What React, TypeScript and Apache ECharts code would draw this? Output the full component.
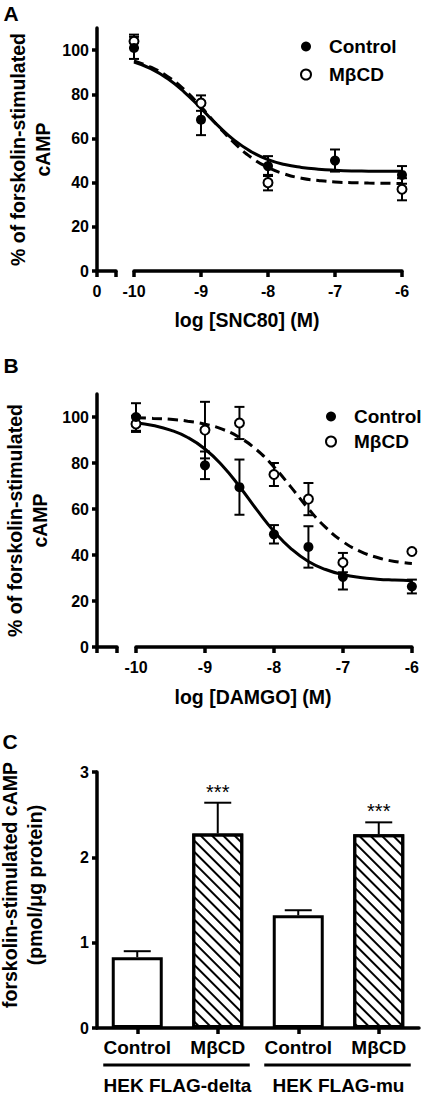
import React, { useEffect, useRef } from 'react';
import * as echarts from 'echarts';

const FONT = '"Liberation Sans", Arial, Helvetica, sans-serif';

// ---------- Panel A (SNC80) ----------
const xA_ctrl = [-10, -9, -8, -7, -6];
const yA_ctrl = [101, 68.5, 47.5, 50, 43.5];
const eA_ctrl = [5, 7, 4.5, 5, 4];
const xA_mbcd = [-10, -9, -8, -6];
const yA_mbcd = [104, 76, 40, 37];
const eA_mbcd = [3, 3.5, 3.5, 5];

// fitted curves
const fitX = [-10, -9.75, -9.5, -9.25, -9, -8.75, -8.5, -8.25, -8, -7.75, -7.5, -7.25, -7, -6.75, -6.5, -6.25, -6];
const fitA_ctrl = [94.6, 91.6, 87.1, 81.0, 73.6, 65.9, 59.1, 54.0, 50.4, 48.2, 46.9, 46.1, 45.6, 45.3, 45.2, 45.1, 45.1];
const fitA_mbcd = [95.1, 92.3, 88.1, 82.1, 74.3, 65.8, 57.9, 51.4, 46.9, 43.9, 42.0, 41.0, 40.3, 40.0, 39.8, 39.7, 39.6];

// ---------- Panel B (DAMGO) ----------
const xB = [-10, -9, -8.5, -8, -7.5, -7, -6];
const yB_ctrl = [100, 79, 69.5, 49, 43.5, 30.5, 26.3];
const eB_ctrl = [6, 6, 12, 4, 9, 5.5, 3];
const yB_mbcd = [97, 94.3, 97.4, 75, 64.3, 36.7, 41.5];
const eB_mbcd = [3.5, 12.3, 7, 5, 7, 4.2, 0];
const fitB_ctrl = [97.5, 96.3, 94.3, 91.1, 86.1, 78.9, 69.8, 59.7, 50.3, 42.7, 37.2, 33.7, 31.5, 30.2, 29.5, 29.1, 28.8];
const fitB_mbcd = [99.7, 99.4, 99.0, 98.2, 96.9, 94.7, 91.1, 85.7, 78.3, 69.4, 60.1, 52.0, 45.8, 41.6, 38.9, 37.2, 36.3];

const yTicksAB = [0, 20, 40, 60, 80, 100];

// ---------- Panel C ----------
const catsC = ['Control', 'MβCD', 'Control', 'MβCD'];
const hatchedC = [false, true, false, true];
const valuesC = [0.83, 2.28, 1.32, 2.27];
const errC = [0.07, 0.36, 0.06, 0.14];
const sigC = ['', '***', '', '***'];
const groupsC = ['HEK FLAG-delta', 'HEK FLAG-mu'];
const groupSpans = [[0, 1], [2, 3]];

const AXW = 3.5;
const mkLine = () => ({ show: true, onZero: false, lineStyle: { color: '#000', width: AXW } });
const mkTick = (length = 6) => ({ show: true, length, lineStyle: { color: '#000', width: AXW } });
const lbl = () => ({ color: '#000', fontSize: 16, fontWeight: 'bold', fontFamily: FONT });

function errRender(cap: number, twoSided: boolean, sig?: string[]) {
  return (params: any, api: any) => {
    const x = api.value(0);
    const y = api.value(1);
    const e = api.value(2);
    const style = { stroke: '#000', lineWidth: 2 };
    const children: any[] = [];
    const hi = api.coord([x, y + e]);
    if (e > 0) {
      const lo = twoSided ? api.coord([x, y - e]) : api.coord([x, y]);
      children.push({ type: 'line', shape: { x1: hi[0], y1: hi[1], x2: lo[0], y2: lo[1] }, style });
      children.push({ type: 'line', shape: { x1: hi[0] - cap, y1: hi[1], x2: hi[0] + cap, y2: hi[1] }, style });
      if (twoSided) {
        children.push({ type: 'line', shape: { x1: lo[0] - cap, y1: lo[1], x2: lo[0] + cap, y2: lo[1] }, style });
      }
    }
    if (sig && sig[params.dataIndex]) {
      children.push({
        type: 'text',
        style: {
          text: sig[params.dataIndex], x: hi[0], y: hi[1] - 11,
          align: 'center', verticalAlign: 'middle', fill: '#000',
          fontSize: 20, fontFamily: FONT,
        },
      });
    }
    return { type: 'group', children };
  };
}

function buildOption(): any {
  const grids = [
    { left: 97, top: 28, width: 19, height: 243 },   // A stub
    { left: 134, top: 28, width: 268, height: 243 }, // A main
    { left: 97, top: 394, width: 20, height: 253 },  // B stub
    { left: 136, top: 394, width: 278, height: 253 },// B main
    { left: 97, top: 772, width: 322, height: 257 }, // C
  ];

  const xAxes: any[] = [
    { gridIndex: 0, type: 'value', min: 0, max: 1, interval: 1, axisLine: mkLine(), axisTick: mkTick(), splitLine: { show: false },
      axisLabel: { ...lbl(), margin: 12, formatter: (v: number) => (v === 0 ? '0' : '') } },
    { gridIndex: 1, type: 'value', min: -10, max: -6, interval: 1, axisLine: mkLine(), axisTick: mkTick(), splitLine: { show: false },
      axisLabel: { ...lbl(), margin: 12 } },
    { gridIndex: 2, type: 'value', min: 0, max: 1, interval: 1, axisLine: mkLine(), axisTick: mkTick(), splitLine: { show: false },
      axisLabel: { show: false } },
    { gridIndex: 3, type: 'value', min: -10, max: -6, interval: 1, axisLine: mkLine(), axisTick: mkTick(), splitLine: { show: false },
      axisLabel: { ...lbl(), margin: 12 } },
    { gridIndex: 4, type: 'category', data: catsC, axisLine: mkLine(), splitLine: { show: false },
      axisTick: { ...mkTick(), alignWithLabel: true, interval: 0 },
      axisLabel: { ...lbl(), fontSize: 19, margin: 10, interval: 0 } },
    { gridIndex: 4, type: 'category', data: groupsC, position: 'bottom', offset: 40,
      axisLine: { show: false }, axisTick: { show: false }, splitLine: { show: false },
      axisLabel: { ...lbl(), fontSize: 19, margin: 8, interval: 0 } },
  ];

  const yTitle = {
    fontSize: 19.5, fontWeight: 'bold', fontFamily: FONT, color: '#000', lineHeight: 25, align: 'center',
  };
  const yAxes: any[] = [
    { gridIndex: 0, type: 'value', min: 0, max: 110, axisLine: mkLine(), splitLine: { show: false },
      axisTick: { ...mkTick(5), customValues: yTicksAB },
      axisLabel: { ...lbl(), margin: 8, customValues: yTicksAB },
      name: '% of forskolin-stimulated\ncAMP', nameLocation: 'middle', nameRotate: 90, nameGap: 42,
      nameTextStyle: yTitle },
    { gridIndex: 1, type: 'value', min: 0, max: 110, show: false },
    { gridIndex: 2, type: 'value', min: 0, max: 110, axisLine: mkLine(), splitLine: { show: false },
      axisTick: { ...mkTick(5), customValues: yTicksAB },
      axisLabel: { ...lbl(), margin: 8, customValues: yTicksAB },
      name: '% of forskolin-stimulated\ncAMP', nameLocation: 'middle', nameRotate: 90, nameGap: 45,
      nameTextStyle: yTitle },
    { gridIndex: 3, type: 'value', min: 0, max: 110, show: false },
    { gridIndex: 4, type: 'value', min: 0, max: 3, interval: 1, axisLine: mkLine(), splitLine: { show: false },
      axisTick: mkTick(5), axisLabel: { ...lbl(), margin: 8 } },
  ];

  const fitLine = (name: string, xi: number, ys: number[], dashed: boolean) => ({
    name, type: 'line', xAxisIndex: xi, yAxisIndex: xi, data: fitX.map((x, i) => [x, ys[i]]),
    symbol: 'none', smooth: true, z: 2, silent: true,
    lineStyle: { color: '#000', width: 3, type: dashed ? [10, 6] : 'solid' },
  });
  const errSeries = (name: string, xi: number, xs: number[], ys: number[], es: number[]) => ({
    name, type: 'custom', xAxisIndex: xi, yAxisIndex: xi, z: 3, silent: true,
    data: xs.map((x, i) => [x, ys[i], es[i]]),
    renderItem: errRender(5, true),
  });
  const pts = (name: string, xi: number, xs: number[], ys: number[], open: boolean) => ({
    name, type: 'scatter', xAxisIndex: xi, yAxisIndex: xi, z: open ? 4 : 5, clip: false,
    symbol: 'circle', symbolSize: open ? 9 : 10,
    data: xs.map((x, i) => [x, ys[i]]),
    itemStyle: open ? { color: '#fff', borderColor: '#000', borderWidth: 2, opacity: 1 } : { color: '#000', opacity: 1 },
  });

  const hatch = {
    color: '#fff', borderColor: '#000', borderWidth: 3,
    decal: {
      symbol: 'rect', symbolSize: 1, color: '#000', backgroundColor: '#fff',
      dashArrayX: [1, 0], dashArrayY: [1.6, 5.6], rotation: Math.PI / 4,
    },
  };
  const plain = { color: '#fff', borderColor: '#000', borderWidth: 3 };

  const series: any[] = [
    fitLine('fitA-ctrl', 1, fitA_ctrl, false),
    fitLine('fitA-mbcd', 1, fitA_mbcd, true),
    errSeries('errA-mbcd', 1, xA_mbcd, yA_mbcd, eA_mbcd),
    errSeries('errA-ctrl', 1, xA_ctrl, yA_ctrl, eA_ctrl),
    pts('MβCD', 1, xA_mbcd, yA_mbcd, true),
    pts('Control', 1, xA_ctrl, yA_ctrl, false),

    fitLine('fitB-ctrl', 3, fitB_ctrl, false),
    fitLine('fitB-mbcd', 3, fitB_mbcd, true),
    errSeries('errB-mbcd', 3, xB, yB_mbcd, eB_mbcd),
    errSeries('errB-ctrl', 3, xB, yB_ctrl, eB_ctrl),
    pts('MβCD', 3, xB, yB_mbcd, true),
    pts('Control', 3, xB, yB_ctrl, false),

    {
      name: 'barsC', type: 'bar', xAxisIndex: 4, yAxisIndex: 4, barWidth: 51, z: 2, silent: true,
      data: valuesC.map((v, i) => ({ value: v, itemStyle: hatchedC[i] ? hatch : plain })),
    },
    {
      name: 'errC', type: 'custom', xAxisIndex: 4, yAxisIndex: 4, z: 1, silent: true,
      data: valuesC.map((v, i) => [i, v, errC[i]]),
      renderItem: errRender(13.5, false, sigC),
    },
    {
      name: 'groupLines', type: 'custom', xAxisIndex: 4, yAxisIndex: 4, silent: true,
      data: groupSpans,
      renderItem: (params: any, api: any) => {
        const a = api.coord([api.value(0), 0]);
        const b = api.coord([api.value(1), 0]);
        return {
          type: 'line',
          shape: { x1: a[0] - 34, y1: a[1] + 37, x2: b[0] + 32, y2: b[1] + 37 },
          style: { stroke: '#000', lineWidth: 3 },
        };
      },
    },
  ];

  const legendBase = () => ({
    data: ['Control', 'MβCD'], orient: 'vertical', icon: 'circle', itemWidth: 10, itemHeight: 10,
    selectedMode: false,
    textStyle: { fontSize: 19, fontWeight: 'bold', fontFamily: FONT, color: '#000', lineHeight: 19, padding: [0, 0, 0, 13] },
  });

  const textEl = (t: string, x: number, y: number, size: number, rot = 0) => ({
    type: 'text', x, y, rotation: rot,
    style: { text: t, fill: '#000', font: `bold ${size}px ${FONT}`, align: 'center', verticalAlign: 'middle', lineHeight: 25 },
  });

  return {
    animation: false,
    backgroundColor: '#fff',
    grid: grids,
    xAxis: xAxes,
    yAxis: yAxes,
    legend: [
      { ...legendBase(), left: 295, top: 32, itemGap: 9 },
      { ...legendBase(), left: 320, top: 402, itemGap: 6 },
    ],
    series,
    graphic: [
      textEl('A', 11, 13, 21),
      textEl('B', 11, 365, 21),
      textEl('C', 10, 741, 21),
      textEl('log [SNC80] (M)', 247, 320, 19.5),
      textEl('log [DAMGO] (M)', 253, 697, 19.5),
      textEl('forskolin-stimulated cAMP\n(pmol/μg protein)', 22.5, 885, 19.5, Math.PI / 2),
    ],
  };
}

export default function App() {
  const ref = useRef<HTMLDivElement>(null);
  useEffect(() => {
    const chart = echarts.init(ref.current!, null, { renderer: 'svg' });
    chart.setOption(buildOption());
    return () => chart.dispose();
  }, []);
  return (
    <div
      ref={ref}
      style={{ position: 'fixed', left: 0, top: 0, width: 422, height: 1095, background: '#fff' }}
    />
  );
}
